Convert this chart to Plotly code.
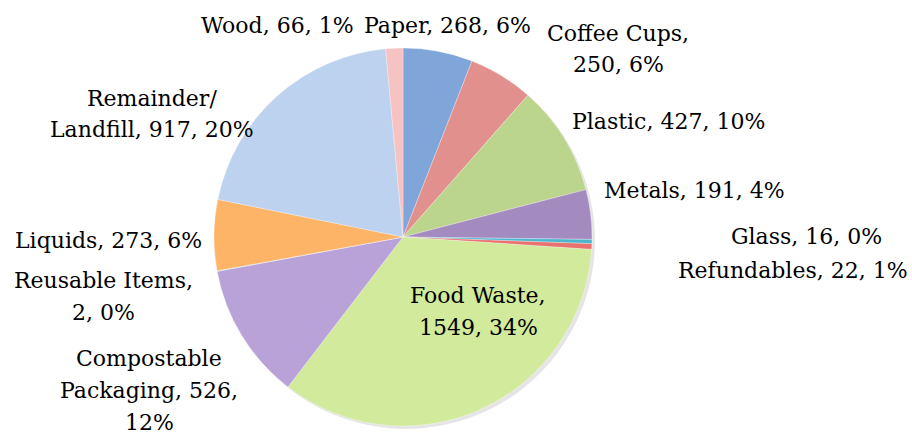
import plotly.graph_objects as go

# ---- data ----
categories = ["Paper", "Coffee Cups", "Plastic", "Metals", "Glass", "Refundables",
              "Food Waste", "Compostable Packaging", "Reusable Items", "Liquids",
              "Remainder/Landfill", "Wood"]
values = [268, 250, 427, 191, 16, 22, 1549, 526, 2, 273, 917, 66]
percents = [6, 6, 10, 4, 0, 1, 34, 12, 0, 6, 20, 1]
# how the category name is written in the label, and where the label lines break
name_lines = [["Paper, {v}, {p}%"], ["Coffee Cups,", "{v}, {p}%"], ["Plastic, {v}, {p}%"],
              ["Metals, {v}, {p}%"], ["Glass, {v}, {p}%"], ["Refundables, {v}, {p}%"],
              ["Food Waste,", "{v}, {p}%"], ["Compostable", "Packaging, {v},", "{p}%"],
              ["Reusable Items,", "{v}, {p}%"], ["Liquids, {v}, {p}%"],
              ["Remainder/", "Landfill, {v}, {p}%"], ["Wood, {v}, {p}%"]]

# ---- styles ----
colors = ["#7FA5D9", "#E1908D", "#BCD58C", "#A38BC0", "#4DB6CF", "#E8726E",
          "#D2EA9B", "#B9A2D8", "#9FD5E5", "#FDB467", "#BDD2EE", "#F6C2C2"]

# label centres in pixels (x, y) within the 912x434 canvas
label_pos = [(447, 25), (618, 49), (668, 121), (694, 191), (806, 236), (793, 270),
             (478, 311), (149, 390), (103, 296), (108, 240), (152, 114), (277, 25)]
LINE_H = 32

W, H = 912, 434
cx, cy, r = 403, 237, 189


def dom(dx=0, dy=0):
    return dict(x=[(cx - r + dx) / W, (cx + r + dx) / W],
                y=[1 - (cy + r + dy) / H, 1 - (cy - r + dy) / H])


fig = go.Figure()
# soft shadow
fig.add_trace(go.Pie(values=[1], labels=["s"], marker=dict(colors=["rgba(0,0,0,0.10)"]),
                     textinfo="none", hoverinfo="skip", showlegend=False,
                     domain=dom(3, 3)))
fig.add_trace(go.Pie(
    labels=categories, values=values, sort=False, direction="clockwise", rotation=0,
    marker=dict(colors=colors, line=dict(color="rgba(255,255,255,0.5)", width=0.6)),
    textinfo="none", showlegend=False, domain=dom()))

for lines, v, pct, (px, py) in zip(name_lines, values, percents, label_pos):
    n = len(lines)
    for i, ln in enumerate(lines):
        y = py + (i - (n - 1) / 2) * LINE_H
        fig.add_annotation(x=px / W, y=1 - y / H, xref="paper", yref="paper",
                           text=ln.format(v=v, p=pct), showarrow=False,
                           xanchor="center", yanchor="middle", align="center",
                           font=dict(family="DejaVu Serif", size=22, color="#000000"))

fig.update_layout(width=W, height=H, margin=dict(l=0, r=0, t=0, b=0),
                  paper_bgcolor="white", plot_bgcolor="white")
fig.write_html("out.html")
